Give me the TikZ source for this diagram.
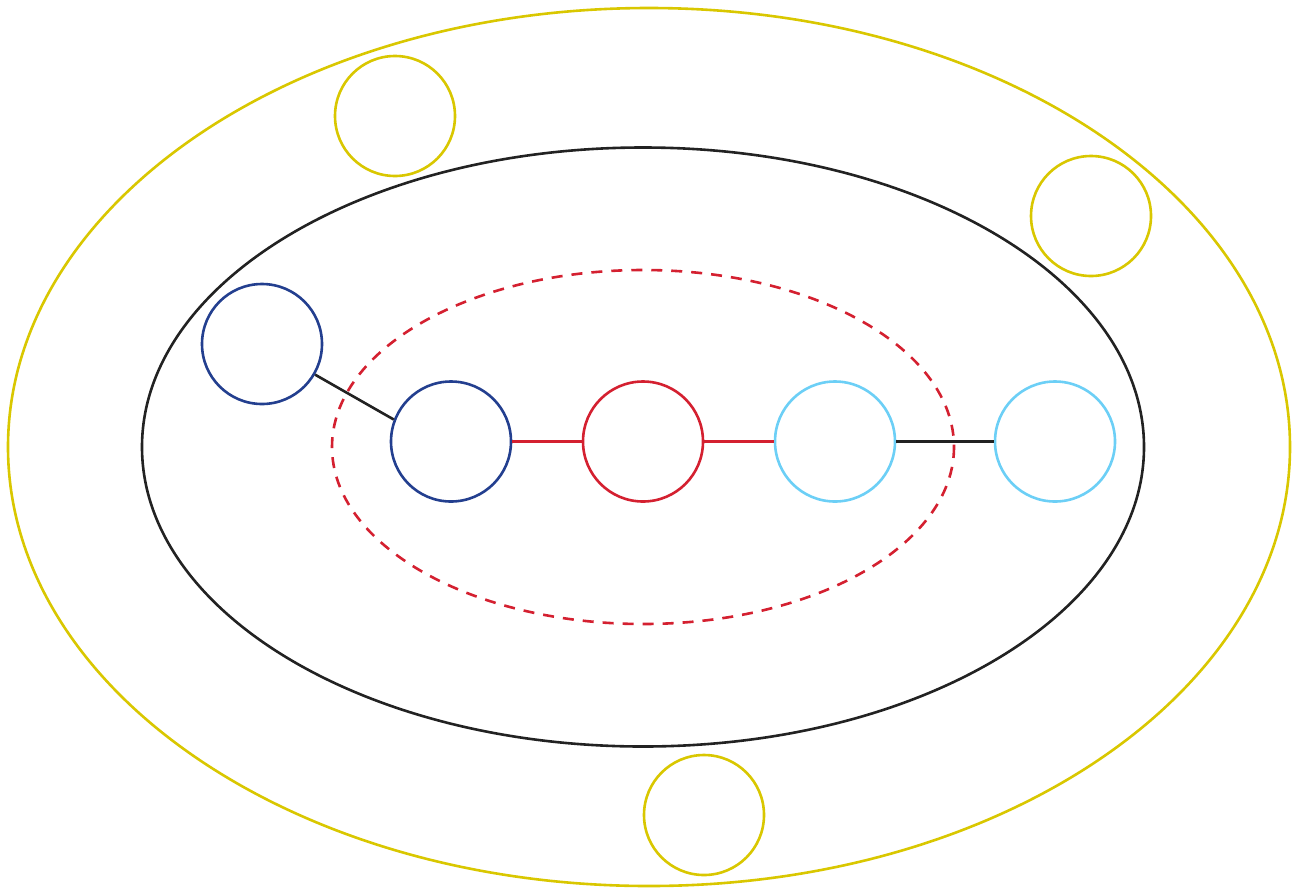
\documentclass[tikz,border=0pt]{standalone}
\definecolor{cyel}{HTML}{D9C700}
\definecolor{cblue}{HTML}{233F8F}
\definecolor{cred}{HTML}{D42030}
\definecolor{ccyan}{HTML}{6CCFF6}
\definecolor{cblk}{HTML}{222222}
\begin{document}
\begin{tikzpicture}[x=1pt,y=-1pt,line width=2.6pt,
  vert/.style={circle,draw,minimum size=120pt,inner sep=0pt},
  yv/.style={vert,draw=cyel},
  bv/.style={vert,draw=cblue},
  rv/.style={vert,draw=cred},
  cv/.style={vert,draw=ccyan},
  blkedge/.style={draw=cblk},
  redge/.style={draw=cred}]
\useasboundingbox (0,0) rectangle (1298,887);
\draw[cyel] (649,447) ellipse [x radius=641, y radius=439];
\draw[cblk] (643,447) ellipse [x radius=501, y radius=299.5];
\draw[cred,dash pattern=on 11pt off 9pt] (643,447) ellipse [x radius=311, y radius=177];
\node[yv] (y1) at (395,116) {};
\node[yv] (y2) at (1091,216) {};
\node[yv] (y3) at (704,815) {};
\node[bv] (b1) at (262,344) {};
\node[bv] (b2) at (451,441.5) {};
\node[rv] (r1) at (643,441.5) {};
\node[cv] (c1) at (835,441.5) {};
\node[cv] (c2) at (1055,441.5) {};
\draw[blkedge] (b1.-30) -- (b2.159);
\draw[redge] (b2) -- (r1);
\draw[redge] (r1) -- (c1);
\draw[blkedge] (c1) -- (c2);
\end{tikzpicture}
\end{document}
